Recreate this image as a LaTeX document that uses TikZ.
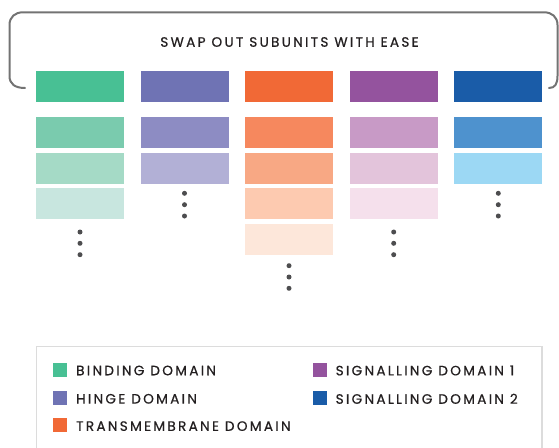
\documentclass[tikz,border=0pt]{standalone}
\usepackage{fontspec}
\newfontfamily\labfont[LetterSpace=17,FakeBold=0.6]{Poppins}
\definecolor{txt}{HTML}{231F20}
\definecolor{brk}{HTML}{737373}
\definecolor{dotc}{HTML}{4D4D4F}
\definecolor{lgb}{HTML}{DCDCDC}
% column 1 green
\definecolor{ga}{HTML}{48C094}\definecolor{gb}{HTML}{7ACBAE}\definecolor{gc}{HTML}{A5DAC6}\definecolor{gd}{HTML}{C8E6DF}
% column 2 purple-blue
\definecolor{pa}{HTML}{6F73B4}\definecolor{pb}{HTML}{8D8CC3}\definecolor{pc}{HTML}{B2B0D6}
% column 3 orange
\definecolor{oa}{HTML}{F16936}\definecolor{ob}{HTML}{F6885E}\definecolor{oc}{HTML}{F8A884}\definecolor{od}{HTML}{FDCAB0}\definecolor{oe}{HTML}{FDE7DA}
% column 4 violet
\definecolor{va}{HTML}{94539E}\definecolor{vb}{HTML}{C89AC6}\definecolor{vc}{HTML}{E3C4DB}\definecolor{vd}{HTML}{F5E0EC}
% column 5 blue
\definecolor{ba}{HTML}{1A5CA8}\definecolor{bb}{HTML}{4E92CE}\definecolor{bc}{HTML}{9CD8F4}
\begin{document}
\begin{tikzpicture}[x=1pt,y=-1pt,
  unit/.style={draw=none,inner sep=0pt,minimum width=88pt,minimum height=31pt,rectangle},
  dotnode/.style={circle,fill=dotc,draw=none,inner sep=0pt,minimum size=5pt},
  bracket/.style={draw=brk,line width=2pt,line cap=round},
  lgsq/.style={draw=none,inner sep=0pt,minimum width=14.5pt,minimum height=14pt},
  lgtxt/.style={anchor=west,inner sep=0pt,text=txt,font=\labfont\fontsize{13.6}{15}\selectfont},
  titletxt/.style={inner sep=0pt,text=txt,font=\labfont\fontsize{13.6}{15}\selectfont}
]
\useasboundingbox (0,0) rectangle (559,447);
% bracket
\draw[bracket] (25,88) .. controls (15,88) and (9.5,84) .. (9.5,76) -- (9.5,25)
  .. controls (9.5,17) and (15,12.3) .. (23,12.3) -- (544,12.3)
  .. controls (552,12.3) and (557.5,17) .. (557.5,25) -- (557.5,76)
  .. controls (557.5,84) and (555,88) .. (549,88);
\node[titletxt] (title) at (289.5,42) {SWAP OUT SUBUNITS WITH EASE};
% column 1
\node[unit,fill=ga] (g1) at (80,86.5) {};
\node[unit,fill=gb] (g2) at (80,132.5) {};
\node[unit,fill=gc] (g3) at (80,168.5) {};
\node[unit,fill=gd] (g4) at (80,203.5) {};
\node[dotnode] (gd1) at (80,232) {};
\node[dotnode] (gd2) at (80,243.3) {};
\node[dotnode] (gd3) at (80,254.7) {};
% column 2
\node[unit,fill=pa] (p1) at (185,86.5) {};
\node[unit,fill=pb] (p2) at (185,132.5) {};
\node[unit,fill=pc] (p3) at (185,168.5) {};
\node[dotnode] (pd1) at (184.5,193.3) {};
\node[dotnode] (pd2) at (184.5,204.7) {};
\node[dotnode] (pd3) at (184.5,216) {};
% column 3
\node[unit,fill=oa] (o1) at (289,86.5) {};
\node[unit,fill=ob] (o2) at (289,132.5) {};
\node[unit,fill=oc] (o3) at (289,168.5) {};
\node[unit,fill=od] (o4) at (289,203.5) {};
\node[unit,fill=oe] (o5) at (289,239.5) {};
\node[dotnode] (od1) at (289,265.7) {};
\node[dotnode] (od2) at (289,277) {};
\node[dotnode] (od3) at (289,288.3) {};
% column 4
\node[unit,fill=va] (v1) at (394,86.5) {};
\node[unit,fill=vb] (v2) at (394,132.5) {};
\node[unit,fill=vc] (v3) at (394,168.5) {};
\node[unit,fill=vd] (v4) at (394,203.5) {};
\node[dotnode] (vd1) at (393.7,232) {};
\node[dotnode] (vd2) at (393.7,243.3) {};
\node[dotnode] (vd3) at (393.7,254.7) {};
% column 5
\node[unit,fill=ba] (b1) at (498,86.5) {};
\node[unit,fill=bb] (b2) at (498,132.5) {};
\node[unit,fill=bc] (b3) at (498,168.5) {};
\node[dotnode] (bd1) at (498.3,193.3) {};
\node[dotnode] (bd2) at (498.3,204.7) {};
\node[dotnode] (bd3) at (498.3,216) {};
% legend
\draw[draw=lgb,line width=1.5pt] (36.5,460) -- (36.5,346.5) -- (542,346.5) -- (542,460);
\node[lgsq,fill=ga] (l1) at (60,369.7) {};
\node[lgtxt] (t1) at (76,370.5) {BINDING DOMAIN};
\node[lgsq,fill=pa] (l2) at (60,398) {};
\node[lgtxt] (t2) at (76,398.8) {HINGE DOMAIN};
\node[lgsq,fill=oa] (l3) at (60,425.3) {};
\node[lgtxt] (t3) at (76,426.1) {TRANSMEMBRANE DOMAIN};
\node[lgsq,fill=va] (l4) at (320.2,369.7) {};
\node[lgtxt] (t4) at (335.5,370.5) {SIGNALLING DOMAIN 1};
\node[lgsq,fill=ba] (l5) at (320.2,398) {};
\node[lgtxt] (t5) at (335.5,398.8) {SIGNALLING DOMAIN 2};
\end{tikzpicture}
\end{document}
